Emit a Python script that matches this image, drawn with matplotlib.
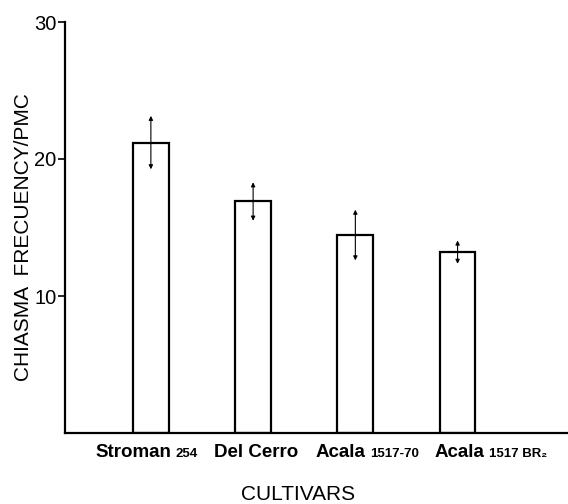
import matplotlib
matplotlib.use("Agg")
import matplotlib.pyplot as plt
from matplotlib.offsetbox import TextArea, HPacker, AnnotationBbox
import matplotlib.transforms as mtransforms

# ---- data ----
cultivar_names = ["Stroman", "Del Cerro", "Acala", "Acala"]
cultivar_suffix = ["254", "", "1517-70", "1517 BR\u2082"]
chiasma_mean = [21.2, 16.9, 14.45, 13.2]
chiasma_err = [1.95, 1.4, 1.85, 0.85]
y_ticks = [10, 20, 30]

# ---- layout ----
label_shift_px = [-4, 3, 12, 33]

plt.rcParams['font.family'] = ['Liberation Sans', 'DejaVu Sans']

fig = plt.figure(figsize=(5.68, 5.04), dpi=100)
ax = fig.add_axes([65/568, 1-433/504, 1-65/568, (433-22)/504])

xs = list(range(len(chiasma_mean)))
ax.bar(xs, chiasma_mean, width=0.35, color='white', edgecolor='black', linewidth=1.6)
for x, m, e in zip(xs, chiasma_mean, chiasma_err):
    ax.annotate('', xy=(x, m + e), xytext=(x, m - e),
                arrowprops=dict(arrowstyle='<|-|>', lw=0.8, color='black',
                                mutation_scale=6, shrinkA=0, shrinkB=0))

ax.set_xlim(-0.84, 4.08)
ax.set_ylim(0, 30)
ax.spines['top'].set_visible(False)
ax.spines['right'].set_visible(False)
ax.spines['left'].set_linewidth(1.6)
ax.spines['bottom'].set_linewidth(1.6)
ax.set_xticks([])
ax.set_yticks(y_ticks)
ax.set_yticklabels([str(t) for t in y_ticks])
ax.tick_params(axis='y', direction='out', length=5, width=1.2, pad=1, labelsize=14.5)

trans = mtransforms.blended_transform_factory(ax.transData, ax.transAxes)
for x, name, suf, sh in zip(xs, cultivar_names, cultivar_suffix, label_shift_px):
    parts = [TextArea(name, textprops=dict(fontsize=13.5, fontweight='bold'))]
    if suf:
        parts.append(TextArea(suf, textprops=dict(fontsize=9.5, fontweight='bold')))
    box = HPacker(children=parts, align='baseline', pad=0, sep=3)
    ab = AnnotationBbox(box, (x, 0), xycoords=trans, xybox=(sh * 0.72, -8),
                        boxcoords='offset points', box_alignment=(0.5, 1), frameon=False,
                        annotation_clip=False)
    ax.add_artist(ab)

fig.text(298/568, 1-495/504, 'CULTIVARS', ha='center', va='center', fontsize=15)
fig.text(24/568, 1-237/504, 'CHIASMA  FRECUENCY/PMC', rotation=90, ha='center', va='center', fontsize=15)

fig.savefig('out.png', dpi=100)
